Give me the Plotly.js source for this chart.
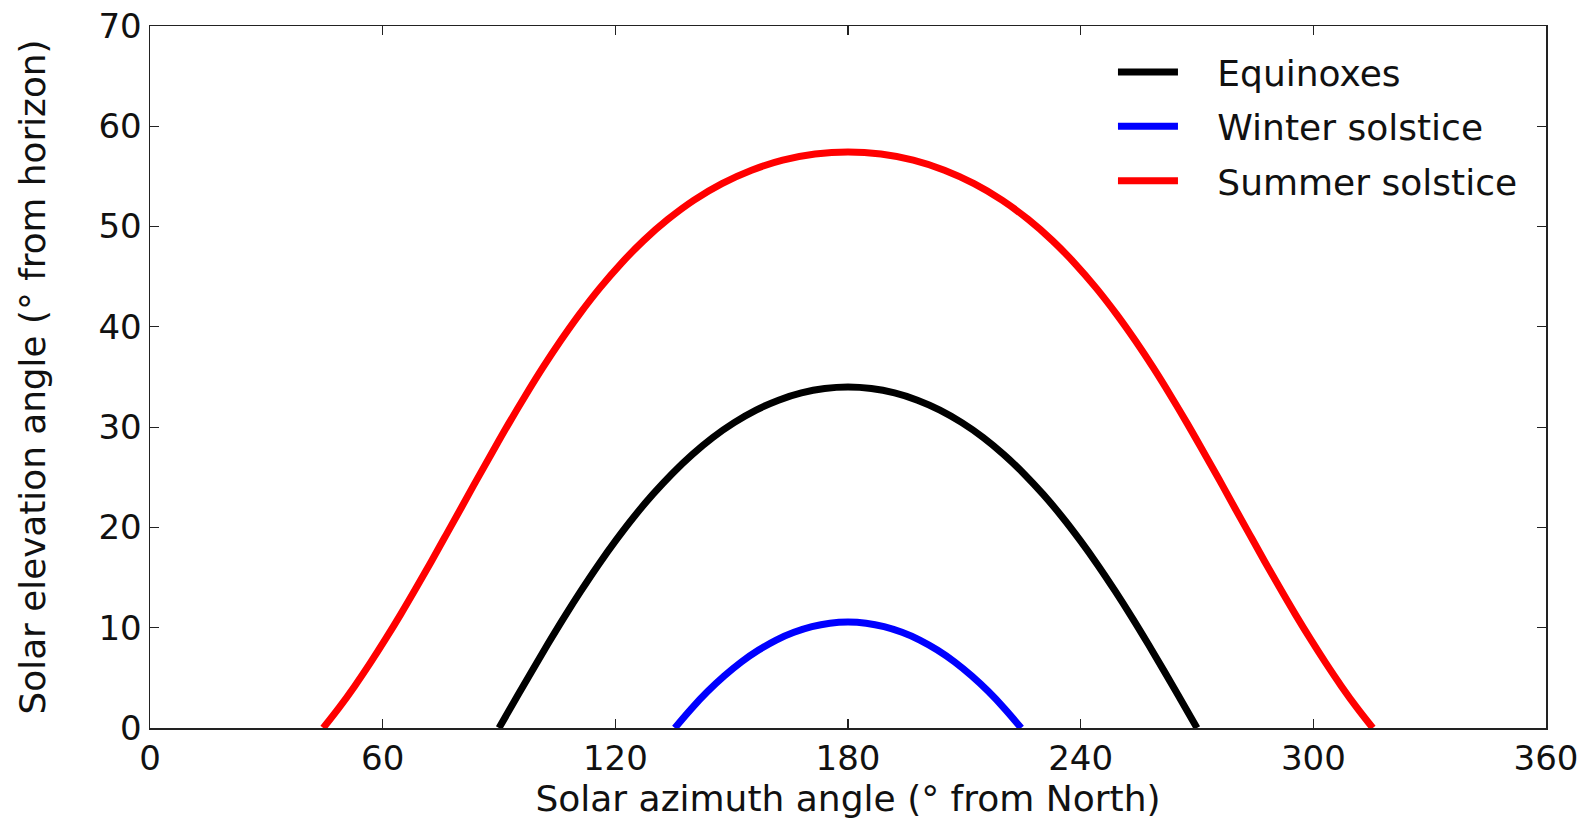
<!DOCTYPE html>
<html>
<head>
<meta charset="utf-8">
<script src="https://cdn.plot.ly/plotly-3.0.1.min.js"></script>
<style>
  html, body { margin: 0; padding: 0; background: #fff; }
  #chart { width: 1596px; height: 823px; }
</style>
</head>
<body>
<div id="chart"></div>
<script>
// Solar azimuth (° from North) and elevation (° above horizon)
const equinoxAzimuth = [90, 94.15, 98.32, 102.52, 106.79, 111.13, 115.57, 120.13, 124.82, 129.66, 134.65, 139.81, 145.14,
                        150.64, 156.30, 162.09, 167.99, 173.98, 180,
                        186.02, 192.01, 197.91, 203.70, 209.36, 214.86, 220.19, 225.35, 230.34, 235.18, 239.87,
                        244.43, 248.87, 253.21, 257.48, 261.68, 265.85, 270];
const equinoxElevation = [0, 2.79, 5.57, 8.32, 11.03, 13.67, 16.24, 18.71, 21.07, 23.29, 25.36, 27.26, 28.97,
                          30.45, 31.70, 32.69, 33.41, 33.85, 34.00,
                          33.85, 33.41, 32.69, 31.70, 30.45, 28.97, 27.26, 25.36, 23.29, 21.07, 18.71,
                          16.24, 13.67, 11.03, 8.32, 5.57, 2.79, 0];

const winterAzimuth = [135.34, 139.52, 143.77, 148.10, 152.49, 156.96, 161.49, 166.07, 170.69, 175.34, 180,
                       184.66, 189.31, 193.93, 198.51, 203.04, 207.51, 211.90, 216.23, 220.48, 224.66];
const winterElevation = [0, 1.89, 3.63, 5.19, 6.58, 7.77, 8.77, 9.54, 10.11, 10.45, 10.56,
                         10.45, 10.11, 9.54, 8.77, 7.77, 6.58, 5.19, 3.63, 1.89, 0];

const summerAzimuth = [44.66, 48.77, 52.82, 56.81, 60.76, 64.68, 68.58, 72.47, 76.37, 80.31, 84.29, 88.35, 92.50,
                       96.79, 101.24, 105.88, 110.77, 115.93, 121.42, 127.28, 133.56, 140.29, 147.49, 155.13,
                       163.17, 171.50, 180,
                       188.50, 196.83, 204.87, 212.51, 219.71, 226.44, 232.72, 238.58, 244.07, 249.23, 254.12,
                       258.76, 263.21, 267.50, 271.65, 275.71, 279.69, 283.63, 287.53, 291.42, 295.32, 299.24,
                       303.19, 307.18, 311.23, 315.34];
const summerElevation = [0, 2.03, 4.20, 6.49, 8.88, 11.36, 13.93, 16.56, 19.26, 21.99, 24.77, 27.55, 30.35,
                         33.13, 35.90, 38.61, 41.27, 43.84, 46.29, 48.60, 50.72, 52.64, 54.28, 55.62,
                         56.62, 57.23, 57.44,
                         57.23, 56.62, 55.62, 54.28, 52.64, 50.72, 48.60, 46.29, 43.84, 41.27, 38.61,
                         35.90, 33.13, 30.35, 27.55, 24.77, 21.99, 19.26, 16.56, 13.93, 11.36, 8.88,
                         6.49, 4.20, 2.03, 0];

const seriesNames = ['Equinoxes', 'Winter solstice', 'Summer solstice'];
const xTicks = [0, 60, 120, 180, 240, 300, 360];
const yTicks = [0, 10, 20, 30, 40, 50, 60, 70];

const FONT = 'DejaVu Sans, Verdana, sans-serif';
const LW = 7;
const GAP = '\u00a0\u00a0\u00a0';

const traces = [
  {x: equinoxAzimuth, y: equinoxElevation, name: GAP + seriesNames[0], legendgroup: 'a',
   mode: 'lines', line: {color: '#000000', width: LW, shape: 'spline', smoothing: 1}},
  {x: winterAzimuth, y: winterElevation, name: GAP + seriesNames[1], legendgroup: 'b',
   mode: 'lines', line: {color: '#0000ff', width: LW, shape: 'spline', smoothing: 1}},
  {x: summerAzimuth, y: summerElevation, name: GAP + seriesNames[2], legendgroup: 'c',
   mode: 'lines', line: {color: '#ff0000', width: LW, shape: 'spline', smoothing: 1}}
];

const axisCommon = {
  showgrid: false, zeroline: false, showline: true, linecolor: '#222', linewidth: 1.5,
  mirror: 'ticks', ticks: 'inside', ticklen: 9, tickwidth: 1.2, tickcolor: '#222',
  tickfont: {family: FONT, size: 34, color: '#111'}
};

const layout = {
  width: 1596, height: 823, autosize: false,
  paper_bgcolor: '#ffffff', plot_bgcolor: '#ffffff',
  margin: {l: 150, r: 50, t: 26, b: 95, pad: 0},
  font: {family: FONT, color: '#111'},
  showlegend: true,
  legend: {
    x: 0.9835, y: 0.977, xref: 'paper', yref: 'paper', xanchor: 'right', yanchor: 'top',
    bgcolor: 'rgba(0,0,0,0)', borderwidth: 0,
    font: {family: FONT, size: 36, color: '#111'},
    itemwidth: 60, tracegroupgap: 4.5, traceorder: 'grouped'
  },
  xaxis: Object.assign({}, axisCommon, {
    range: [0, 360], tickmode: 'array', tickvals: xTicks, ticktext: xTicks.map(String),
    title: {text: 'Solar azimuth angle (° from North)', font: {family: FONT, size: 36, color: '#111'}, standoff: 6}
  }),
  yaxis: Object.assign({}, axisCommon, {
    range: [0, 70], tickmode: 'array', tickvals: yTicks, ticktext: yTicks.map(String),
    title: {text: 'Solar elevation angle (° from horizon)', font: {family: FONT, size: 35.8, color: '#111'}, standoff: 42}
  })
};

Plotly.newPlot('chart', traces, layout, {displayModeBar: false, staticPlot: true});
</script>
</body>
</html>
